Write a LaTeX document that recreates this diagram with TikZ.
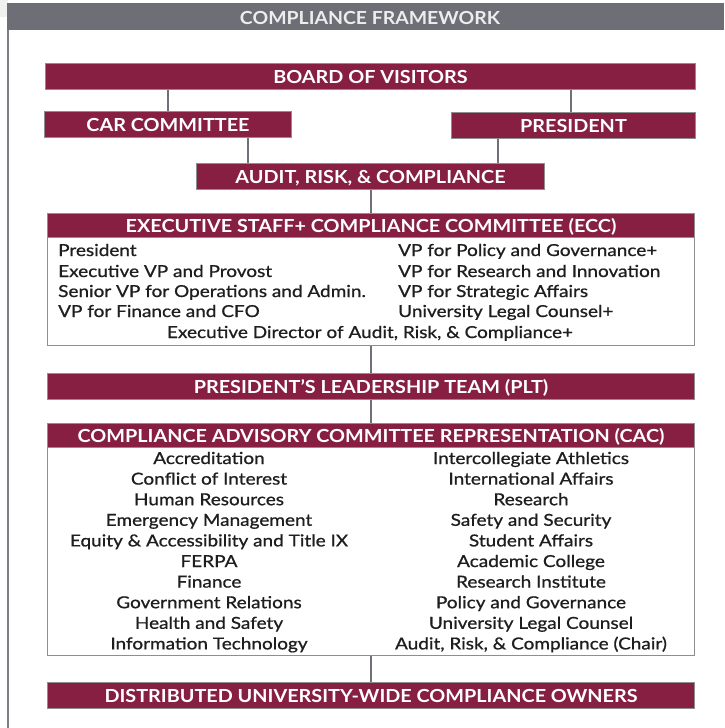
\documentclass[tikz,border=0pt]{standalone}
\usepackage{fontspec}
\setmainfont{Lato}
\newfontfamily\medfont{Lato}[FakeBold=0.8, FakeStretch=1.15]
\newfontfamily\headfont{Lato Bold}[FakeStretch=1.1]
\newfontfamily\titlefont{Lato Bold}[FakeStretch=1.08]
\usetikzlibrary{calc}
\definecolor{vtmaroon}{HTML}{861F41}
\definecolor{hdrgray}{HTML}{6D6E76}
\definecolor{edgegray}{HTML}{8E8E8E}
\definecolor{linegray}{HTML}{707078}
\definecolor{bodytext}{HTML}{1E1E1E}
\tikzset{
  mbox/.style={draw=edgegray, line width=1pt, fill=vtmaroon, inner sep=0pt, anchor=north west},
  wbox/.style={draw=edgegray, line width=1pt, fill=white, inner sep=0pt, anchor=north west},
  conn/.style={draw=linegray, line width=2pt},
  bodyl/.style={text=bodytext, font=\medfont\fontsize{16.5}{18}\selectfont, anchor=base west, inner sep=0pt},
  bodyc/.style={text=bodytext, font=\medfont\fontsize{16.5}{18}\selectfont, anchor=base, inner sep=0pt},
  htext/.style={text=white, font=\headfont\fontsize{18}{20}\selectfont, inner sep=0pt, anchor=base, yshift=-7pt}
}
\begin{document}
\begin{tikzpicture}[x=1pt,y=-1pt]
\useasboundingbox[fill=white] (0,0) rectangle (724,728);
% frame
\fill[black!6] (0,0) rectangle (8,17);
\fill[hdrgray] (7,3) rectangle (724,30);
\node[text=white!93!black, font=\titlefont\fontsize{18}{20}\selectfont, inner sep=0pt, anchor=base] (title) at (370,24) {COMPLIANCE FRAMEWORK};
\draw[draw=linegray!90, line width=2pt] (8,30) -- (8,728);

% boxes
\node[mbox, minimum width=650pt, minimum height=26pt] (board) at (45,63) {};
\node[htext] at (board.center) {BOARD OF VISITORS};
\node[mbox, minimum width=247pt, minimum height=26pt] (car) at (44,111) {};
\node[htext] at (car.center) {CAR COMMITTEE};
\node[mbox, minimum width=244pt, minimum height=26pt] (pres) at (451,112) {};
\node[htext] at (pres.center) {PRESIDENT};
\node[mbox, minimum width=348pt, minimum height=26pt] (arc) at (196,163) {};
\node[htext] at (arc.center) {AUDIT, RISK, \& COMPLIANCE};

\node[wbox, minimum width=647pt, minimum height=132pt] (ecc) at (47,213) {};
\node[mbox, minimum width=647pt, minimum height=24pt] (eccband) at (47,213) {};
\node[htext] at (eccband.center) {EXECUTIVE STAFF+ COMPLIANCE COMMITTEE (ECC)};

\node[mbox, minimum width=647pt, minimum height=26pt] (plt) at (47,373) {};
\node[htext] at (plt.center) {PRESIDENT’S LEADERSHIP TEAM (PLT)};

\node[wbox, minimum width=647pt, minimum height=232pt] (cac) at (47,423) {};
\node[mbox, minimum width=647pt, minimum height=24pt] (cacband) at (47,423) {};
\node[htext] at (cacband.center) {COMPLIANCE ADVISORY COMMITTEE REPRESENTATION (CAC)};

\node[mbox, minimum width=647pt, minimum height=26pt] (dist) at (47,682) {};
\node[htext] at (dist.center) {DISTRIBUTED UNIVERSITY-WIDE COMPLIANCE OWNERS};

% connectors
\draw[conn] (car.north) -- (car.north |- board.south);
\draw[conn] ([xshift=-3pt]pres.north) -- ([xshift=-3pt]pres.north |- board.south);
\draw[conn] ([xshift=80pt]car.south) -- ([xshift=80pt]car.south |- arc.north);
\draw[conn] ([xshift=-76pt]pres.south) -- ([xshift=-76pt]pres.south |- arc.north);
\draw[conn] (arc.south) -- (arc.south |- eccband.north);
\draw[conn] (arc.south |- ecc.south) -- (arc.south |- plt.north);
\draw[conn] (arc.south |- plt.south) -- (arc.south |- cacband.north);
\draw[conn] (arc.south |- cac.south) -- (arc.south |- dist.north);

% ECC members
\node[bodyl] (e1) at (58,256) {President};
\node[bodyl] (e2) at (58,277) {Executive VP and Provost};
\node[bodyl] (e3) at (58,297) {Senior VP for Operations and Admin.};
\node[bodyl] (e4) at (58,317) {VP for Finance and CFO};
\node[bodyl] (e5) at (398,256) {VP for Policy and Governance+};
\node[bodyl] (e6) at (398,277) {VP for Research and Innovation};
\node[bodyl] (e7) at (398,297) {VP for Strategic Affairs};
\node[bodyl] (e8) at (398,317) {University Legal Counsel+};
\node[bodyc] (e9) at (370,338) {Executive Director of Audit, Risk, \& Compliance+};

% CAC members
\foreach \t [count=\i from 0] in {Accreditation, Conflict of Interest, Human Resources, Emergency Management, Equity \& Accessibility and Title IX, FERPA, Finance, Government Relations, Health and Safety, Information Technology}
  \node[bodyc] (cl\i) at (209,{464+20.6*\i}) {\t};
\foreach \t [count=\i from 0] in {Intercollegiate Athletics, International Affairs, Research, Safety and Security, Student Affairs, Academic College, Research Institute, Policy and Governance, University Legal Counsel, {Audit, Risk, \& Compliance (Chair)}}
  \node[bodyc] (cr\i) at (531,{464+20.6*\i}) {\t};
\end{tikzpicture}
\end{document}
